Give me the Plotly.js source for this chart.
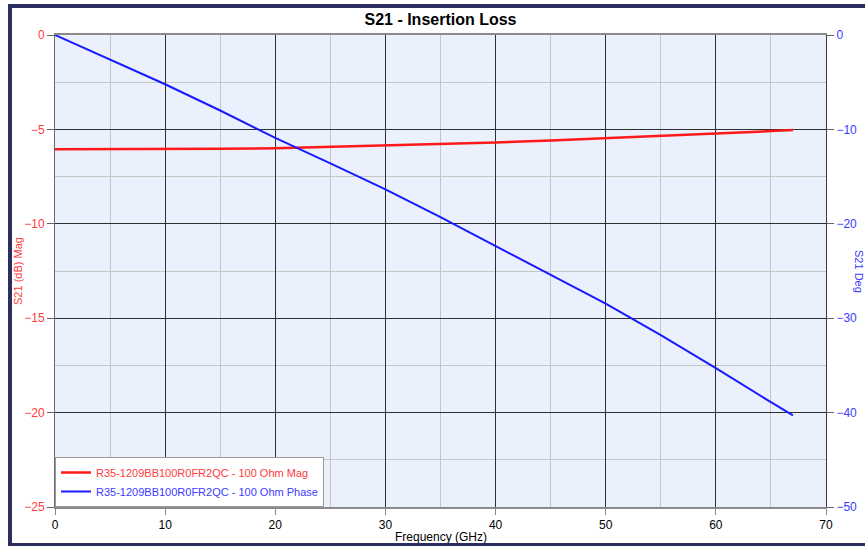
<!DOCTYPE html>
<html>
<head>
<meta charset="utf-8">
<script src="https://cdn.plot.ly/plotly-3.0.1.min.js"></script>
<style>
  html, body { margin: 0; padding: 0; background: #ffffff; }
  #wrap { position: relative; width: 865px; height: 546px; overflow: hidden; }
  #chart { position: absolute; left: 0; top: 0; width: 865px; height: 546px; }
  #frame { position: absolute; left: 8px; top: 4px; width: 900px; height: 543px;
           border: 4px solid #2b2e5e; box-sizing: border-box; pointer-events: none; }
</style>
</head>
<body>
<div id="wrap">
  <div id="chart"></div>
  <div id="frame"></div>
</div>
<script>
// Frequency points (GHz)
const freqMag = [0, 5, 10, 15, 20, 25, 30, 35, 40, 45, 50, 55, 60, 65, 67];
// S21 magnitude (dB)
const magDb = [-6.05, -6.05, -6.04, -6.02, -6.0, -5.93, -5.85, -5.77, -5.69, -5.59, -5.48, -5.36, -5.22, -5.09, -5.03];

const freqPhase = [0, 5, 10, 15, 20, 25, 30, 35, 40, 45, 50, 55, 60, 65, 67];
// S21 phase (deg)
const phaseDeg = [0, -2.6, -5.22, -8.0, -10.9, -13.6, -16.35, -19.3, -22.35, -25.4, -28.46, -31.8, -35.3, -38.9, -40.3];

const nameMag = "R35-1209BB100R0FR2QC - 100 Ohm Mag";
const namePhase = "R35-1209BB100R0FR2QC - 100 Ohm Phase";

const chartTitle = "S21 - Insertion Loss";
const xTitle = "Frequency (GHz)";
const yTitle = "S21 (dB) Mag";
const y2Title = "S21 Deg";

const RED = "#ff1a1a";
const BLUE = "#1a1aff";
const REDTXT = "#ff3b3b";
const BLUETXT = "#3b3bff";

const traces = [
  {
    x: freqMag, y: magDb, type: "scatter", mode: "lines",
    name: '<span style="color:' + REDTXT + '">' + nameMag + '</span>',
    line: { color: RED, width: 2.5 },
    yaxis: "y"
  },
  {
    x: freqPhase, y: phaseDeg, type: "scatter", mode: "lines",
    name: '<span style="color:' + BLUETXT + '">' + namePhase + '</span>',
    line: { color: BLUE, width: 2 },
    yaxis: "y2"
  }
];

const layout = {
  width: 865, height: 546,
  margin: { l: 55, r: 39, t: 35, b: 39, pad: 0 },
  paper_bgcolor: "#ffffff",
  plot_bgcolor: "#eaf0fc",
  font: { family: "Liberation Sans, Arial, sans-serif", size: 12, color: "#000" },
  title: { text: "<b>" + chartTitle + "</b>", x: 0.5, xref: "paper", xanchor: "center",
           y: 1, yref: "container", yanchor: "top", pad: { t: 14 },
           font: { size: 16, color: "#000" } },
  showlegend: true,
  legend: { x: 0, y: 0, xanchor: "left", yanchor: "bottom",
            bgcolor: "#ffffff", bordercolor: "#9a9a9a", borderwidth: 1,
            font: { size: 11, family: "Liberation Sans, Arial, sans-serif" },
            tracegroupgap: 0, itemwidth: 30 },
  xaxis: {
    range: [0, 70], dtick: 10, tick0: 0,
    showgrid: true, gridcolor: "#2f2f2f", gridwidth: 1,
    minor: { dtick: 5, showgrid: true, gridcolor: "#c6c6c6", gridwidth: 1, ticks: "" },
    ticks: "outside", ticklen: 6, tickcolor: "#888",
    showline: true, linecolor: "#8a8a8a", linewidth: 2, mirror: true,
    zeroline: false,
    tickfont: { size: 12, color: "#000" }
  },
  yaxis: {
    range: [-25, 0], dtick: 5, tick0: 0,
    showgrid: true, gridcolor: "#2f2f2f", gridwidth: 1,
    minor: { dtick: 2.5, showgrid: true, gridcolor: "#c6c6c6", gridwidth: 1, ticks: "" },
    ticks: "outside", ticklen: 7, tickcolor: "#666",
    showline: true, linecolor: "#6a6a6a", linewidth: 1,
    zeroline: false,
    tickfont: { size: 12, color: REDTXT }
  },
  yaxis2: {
    range: [-50, 0], dtick: 10, tick0: 0,
    overlaying: "y", side: "right",
    showgrid: false, zeroline: false,
    ticks: "outside", ticklen: 7, tickcolor: "#666",
    showline: true, linecolor: "#3a3a3a", linewidth: 1,
    tickfont: { size: 12, color: BLUETXT }
  },
  annotations: [
    { text: xTitle, xref: "paper", yref: "paper", x: 0.5, y: 0,
      xanchor: "center", yanchor: "middle", yshift: -30,
      showarrow: false, font: { size: 12, color: "#000" } },
    { text: yTitle, xref: "paper", yref: "paper", x: 0, y: 0.5,
      xanchor: "center", yanchor: "middle", xshift: -37, textangle: -90,
      showarrow: false, font: { size: 11, color: REDTXT } },
    { text: y2Title, xref: "paper", yref: "paper", x: 1, y: 0.5,
      xanchor: "center", yanchor: "middle", xshift: 33, textangle: 90,
      showarrow: false, font: { size: 11, color: BLUETXT } }
  ]
};

Plotly.newPlot("chart", traces, layout, { displayModeBar: false, staticPlot: true });
</script>
</body>
</html>
